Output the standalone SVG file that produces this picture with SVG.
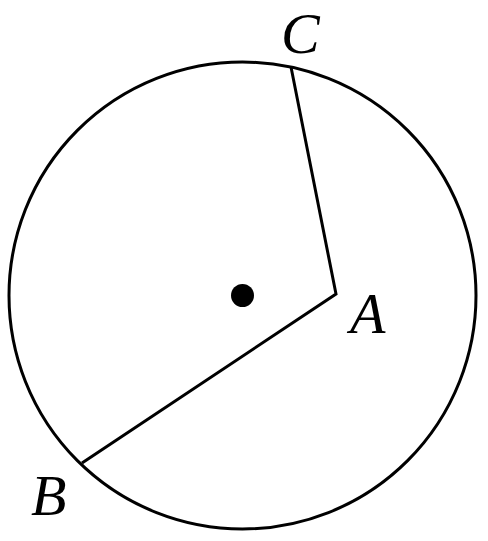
<svg xmlns="http://www.w3.org/2000/svg" width="488" height="541" viewBox="0 0 488 541">
<style>
.ln{fill:none;stroke:#000;stroke-width:3;stroke-linejoin:miter}
.lb{font-family:"Liberation Serif","Times New Roman",serif;font-style:italic;font-size:58px;fill:#000}
</style>
<rect width="488" height="541" fill="#fff"/>
<g id="circle"><circle class="ln" cx="242.5" cy="295.5" r="233.5"/></g>
<g id="center"><circle cx="242.5" cy="295.5" r="11.5" fill="#000"/></g>
<g id="connectors">
<polyline class="ln" points="291,67 336,294 82,463"/>
</g>
<g id="A"><text class="lb" x="350" y="333">A</text></g>
<g id="B"><text class="lb" x="31" y="515">B</text></g>
<g id="C"><text class="lb" x="281" y="52.5">C</text></g>
</svg>
